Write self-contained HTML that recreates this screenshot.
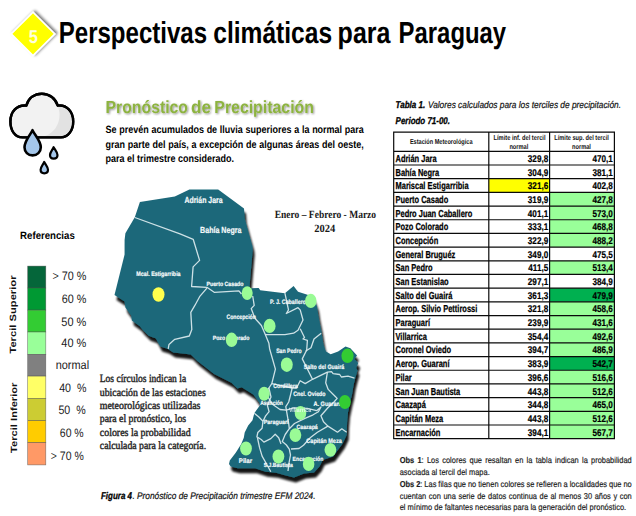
<!DOCTYPE html>
<html lang="es"><head><meta charset="utf-8"><title>Perspectivas climáticas para Paraguay</title>
<style>html,body{margin:0;padding:0;background:#fff}svg{display:block}</style></head>
<body><svg width="636" height="516" viewBox="0 0 636 516" text-rendering="geometricPrecision">
<rect width="636" height="516" fill="#fff"/>
<defs>
<filter id="mapsh" x="-10%" y="-10%" width="125%" height="125%">
  <feGaussianBlur in="SourceAlpha" stdDeviation="1.05" result="b"/>
  <feOffset in="b" dx="2" dy="4.6" result="o1"/>
  <feComponentTransfer in="o1" result="s1"><feFuncA type="linear" slope="0.92"/></feComponentTransfer>
  <feMerge><feMergeNode in="s1"/><feMergeNode in="SourceGraphic"/></feMerge>
</filter>
<filter id="dsh" x="-30%" y="-30%" width="170%" height="170%">
  <feGaussianBlur in="SourceAlpha" stdDeviation="1.4"/>
  <feOffset dx="1.5" dy="-1.5"/>
  <feComponentTransfer><feFuncA type="linear" slope="0.55"/></feComponentTransfer>
  <feMerge><feMergeNode/><feMergeNode in="SourceGraphic"/></feMerge>
</filter>
<filter id="tsh" x="-5%" y="-30%" width="110%" height="170%">
  <feGaussianBlur in="SourceAlpha" stdDeviation="0.9"/>
  <feOffset dx="0.8" dy="0.8"/>
  <feComponentTransfer><feFuncA type="linear" slope="0.45"/></feComponentTransfer>
  <feMerge><feMergeNode/><feMergeNode in="SourceGraphic"/></feMerge>
</filter>
<filter id="soft"><feGaussianBlur stdDeviation="0.35"/></filter>
</defs>
<g filter="url(#dsh)"><polygon points="33,12.3 54.8,33.9 33,55.5 11.2,33.9" fill="#ffff00" stroke="#fff" stroke-width="1.6"/></g>
<text x="33.4" y="43.0" font-family='"Liberation Sans", Arial, sans-serif' font-size="18.5" font-weight="bold" fill="#ffffdc" text-anchor="middle" textLength="9.2" lengthAdjust="spacingAndGlyphs" >5</text>
<text y="43.4" font-family='"Liberation Sans", Arial, sans-serif' font-size="30.4" font-weight="bold" fill="#000"><tspan x="58.78" textLength="148.28" lengthAdjust="spacingAndGlyphs">Perspectivas</tspan> <tspan x="213.31" textLength="118.80" lengthAdjust="spacingAndGlyphs">climáticas</tspan> <tspan x="337.62" textLength="52.80" lengthAdjust="spacingAndGlyphs">para</tspan> <tspan x="398.62" textLength="107.54" lengthAdjust="spacingAndGlyphs">Paraguay</tspan></text>
<g stroke="#000" stroke-width="2.4" stroke-linejoin="round" stroke-linecap="round">
<path d="M22.5,137.4 C14.5,137.4 10.4,130 10.4,121.5 C10.4,111.5 17,104.6 26.3,105.6 C28.5,98 34.5,93.7 41.8,93.7 C49.5,93.7 55.5,98.5 57.8,105.6 C66.5,104.3 73.2,111.5 73.2,121.5 C73.2,130.5 68,137.4 61,137.4 Z" fill="#f2f2f2"/>
</g>
<path d="M57.8,106.8 C65.5,105.8 72,112 72,121.5 C72,130 67.5,136.1 61,136.1 L45,136.1 C54,133 59.5,124.5 59.5,115 C59.5,112 59,109.2 57.8,106.8 Z" fill="#e2e2e2"/>
<path d="M22.5,137.4 C14.5,137.4 10.4,130 10.4,121.5 C10.4,111.5 17,104.6 26.3,105.6 C28.5,98 34.5,93.7 41.8,93.7 C49.5,93.7 55.5,98.5 57.8,105.6 C66.5,104.3 73.2,111.5 73.2,121.5 C73.2,130.5 68,137.4 61,137.4 Z" fill="none" stroke="#000" stroke-width="2.4" stroke-linejoin="round"/>
<g stroke="#000" stroke-linejoin="round" fill="#a4c6ea">
<path d="M32.5,130.2 C35,135.5 40.8,141 40.8,147.3 C40.8,152 37.2,155.4 32.6,155.4 C28,155.4 24.5,152 24.5,147.3 C24.5,141 30,135.5 32.5,130.2 Z" stroke-width="2.6"/>
<path d="M53.6,147.2 C55,150 57.5,152.3 57.5,155 C57.5,157.3 55.8,158.6 53.7,158.6 C51.6,158.6 50,157.3 50,155 C50,152.3 52.4,150 53.6,147.2 Z" stroke-width="2.2"/>
<path d="M44.2,162 C45.6,164.8 48,167 48,169.8 C48,172 46.3,173.3 44.3,173.3 C42.2,173.3 40.6,172 40.6,169.8 C40.6,167 43,164.8 44.2,162 Z" stroke-width="2.2"/>
</g>
<text y="113.1" font-family='"Liberation Sans", Arial, sans-serif' font-size="17.6" font-weight="bold" fill="#8db33f" filter="url(#tsh)"><tspan x="105.57" textLength="82.38" lengthAdjust="spacingAndGlyphs">Pronóstico</tspan> <tspan x="191.00" textLength="20.00" lengthAdjust="spacingAndGlyphs">de</tspan> <tspan x="214.31" textLength="99.64" lengthAdjust="spacingAndGlyphs">Precipitación</tspan></text>
<text transform="translate(105.6,133.3) scale(0.8478,1)" font-family='"Liberation Sans", Arial, sans-serif' font-size="10.6" font-weight="bold" fill="#000" word-spacing="0.277" >Se prevén acumulados de lluvia superiores a la normal para</text>
<text transform="translate(105.6,147.7) scale(0.8478,1)" font-family='"Liberation Sans", Arial, sans-serif' font-size="10.6" font-weight="bold" fill="#000" word-spacing="0.307" >gran parte del país, a excepción de algunas áreas del oeste,</text>
<text transform="translate(105.6,161.7) scale(0.8478,1)" font-family='"Liberation Sans", Arial, sans-serif' font-size="10.6" font-weight="bold" fill="#000" word-spacing="0.000" >para el trimestre considerado.</text>
<text x="20.1" y="239.4" font-family='"Liberation Sans", Arial, sans-serif' font-size="10.6" font-weight="bold" fill="#000" textLength="54.7" lengthAdjust="spacingAndGlyphs" >Referencias</text>
<rect x="27.7" y="266.1" width="18.1" height="21.9" fill="#05663a" stroke="#4d4d4d" stroke-opacity="0.7" stroke-width="0.6"/>
<rect x="27.7" y="288" width="18.1" height="22.1" fill="#009933" stroke="#4d4d4d" stroke-opacity="0.7" stroke-width="0.6"/>
<rect x="27.7" y="310.1" width="18.1" height="21.9" fill="#33cc33" stroke="#4d4d4d" stroke-opacity="0.7" stroke-width="0.6"/>
<rect x="27.7" y="332" width="18.1" height="22.4" fill="#99ff99" stroke="#4d4d4d" stroke-opacity="0.7" stroke-width="0.6"/>
<rect x="27.7" y="354.4" width="18.1" height="21.7" fill="#808080" stroke="#4d4d4d" stroke-opacity="0.7" stroke-width="0.6"/>
<rect x="27.7" y="376.1" width="18.1" height="22.3" fill="#ffff66" stroke="#4d4d4d" stroke-opacity="0.7" stroke-width="0.6"/>
<rect x="27.7" y="398.4" width="18.1" height="22.3" fill="#cccc33" stroke="#4d4d4d" stroke-opacity="0.7" stroke-width="0.6"/>
<rect x="27.7" y="420.7" width="18.1" height="22.0" fill="#ffcc00" stroke="#4d4d4d" stroke-opacity="0.7" stroke-width="0.6"/>
<rect x="27.7" y="442.7" width="18.1" height="22.2" fill="#ff9966" stroke="#4d4d4d" stroke-opacity="0.7" stroke-width="0.6"/>
<text x="52.4" y="280.4" font-family='"Liberation Sans", Arial, sans-serif' font-size="12.2" font-weight="normal" fill="#1a1a1a" textLength="33.9" lengthAdjust="spacingAndGlyphs" xml:space="preserve">&gt; 70 %</text>
<text x="61.7" y="303" font-family='"Liberation Sans", Arial, sans-serif' font-size="12.2" font-weight="normal" fill="#1a1a1a" textLength="24.6" lengthAdjust="spacingAndGlyphs" xml:space="preserve">60 %</text>
<text x="61.3" y="325.7" font-family='"Liberation Sans", Arial, sans-serif' font-size="12.2" font-weight="normal" fill="#1a1a1a" textLength="25.0" lengthAdjust="spacingAndGlyphs" xml:space="preserve">50 %</text>
<text x="61.3" y="347.4" font-family='"Liberation Sans", Arial, sans-serif' font-size="12.2" font-weight="normal" fill="#1a1a1a" textLength="25.0" lengthAdjust="spacingAndGlyphs" xml:space="preserve">40 %</text>
<text x="55.7" y="368.5" font-family='"Liberation Sans", Arial, sans-serif' font-size="12.2" font-weight="normal" fill="#1a1a1a" textLength="33.4" lengthAdjust="spacingAndGlyphs" xml:space="preserve">normal</text>
<text x="59.2" y="391.6" font-family='"Liberation Sans", Arial, sans-serif' font-size="12.2" font-weight="normal" fill="#1a1a1a" textLength="27.2" lengthAdjust="spacingAndGlyphs" xml:space="preserve">40  %</text>
<text x="58.4" y="413.5" font-family='"Liberation Sans", Arial, sans-serif' font-size="12.2" font-weight="normal" fill="#1a1a1a" textLength="27.2" lengthAdjust="spacingAndGlyphs" xml:space="preserve">50  %</text>
<text x="59.8" y="437.2" font-family='"Liberation Sans", Arial, sans-serif' font-size="12.2" font-weight="normal" fill="#1a1a1a" textLength="23.9" lengthAdjust="spacingAndGlyphs" xml:space="preserve">60 %</text>
<text x="50.8" y="459.5" font-family='"Liberation Sans", Arial, sans-serif' font-size="12.2" font-weight="normal" fill="#1a1a1a" textLength="32.9" lengthAdjust="spacingAndGlyphs" xml:space="preserve">&gt; 70 %</text>
<text transform="translate(16.4,353.6) rotate(-90)" font-family='"Liberation Sans", Arial, sans-serif' font-size="9" font-weight="bold" fill="#111" textLength="78.1" lengthAdjust="spacingAndGlyphs">Tercil Superior</text>
<text transform="translate(17.1,452.9) rotate(-90)" font-family='"Liberation Sans", Arial, sans-serif' font-size="9" font-weight="bold" fill="#111" textLength="70.3" lengthAdjust="spacingAndGlyphs">Tercil Inferior</text>
<g filter="url(#mapsh)"><polygon points="139.9,201.9 174.8,196.5 189.4,189.6 218.2,189.5 244,208.4 244.7,218.6 252.3,246 252.7,250 249.8,283.6 249.5,288.2 258.7,288.1 260.2,290.3 284.9,293.2 293.6,285.9 298,291.7 306.7,294.6 313.5,297 316.9,306.3 318.3,315.7 321.2,330.2 322.4,338 323.7,345.6 326,351.5 330.7,354.3 338.1,351.5 345.5,346.5 350.4,348.2 357,355.6 354.5,358.9 358.2,363 356.2,368 357.5,370.4 355.4,377.8 353.7,384.4 352.1,394.3 350.4,400.9 348,412.4 347.1,422.7 346.7,434.9 342.7,443.6 337.5,450.5 333.1,456.6 322.7,460.1 319.5,466.5 314,472.5 304,473.5 294,477.5 285,475.3 276.1,472.7 265.6,471.8 255.1,468.3 237.7,468.3 230.7,466.6 229,463.9 229.8,460.4 235.9,452.6 241.2,443.9 243.8,437.8 244.7,432.5 248.2,425.5 252.5,420.3 254.3,413.3 256,410.7 260.2,405 259.2,402.4 253.3,394.4 241.7,387.2 237.3,388.6 231.5,382.8 214.1,374.1 197.4,361 190.8,354.5 185,353.7 173.3,352.4 167.5,348.8 160.2,346.6 155.9,338.6 148.6,335.7 142.8,329.9 139.9,326.3 131.9,320.4 131.2,315.4 125.4,307.4 124.6,301.5 114.5,295 124.6,254.5 124.6,240 125.4,233.2 134.8,217.2" fill="#1d687a"/></g>
<polyline points="134.8,217.5 180,233.9 193.2,239.3 199.6,260.4 193.1,266.9 191.6,286.5 206.9,287.3 214.2,292.3 238.9,290.9 241.5,294" fill="none" stroke="#dcecef" stroke-width="1.3" stroke-linejoin="round" opacity="0.92"/>
<polyline points="206.9,288.2 199.6,296.7 195,305.2 190.8,312.4 191.8,329.5 189.3,336 174.8,339.3 169,344.4 168.2,348.8" fill="none" stroke="#dcecef" stroke-width="1.3" stroke-linejoin="round" opacity="0.92"/>
<polyline points="252.7,296 254.2,305.4 251.2,308.6 254.9,318.3 261.4,325.5 265.3,334.6 268.9,343.3 269.6,348.7 275.4,369.1 271.8,383.6 268.9,388 264,394" fill="none" stroke="#dcecef" stroke-width="1.3" stroke-linejoin="round" opacity="0.92"/>
<polyline points="284.9,293.2 288.5,309.9 286.3,313.5 298,307.7 300.2,309.9 303,320 298,330.2 293.6,333.2 284.9,334.6 265.3,334.6" fill="none" stroke="#dcecef" stroke-width="1.3" stroke-linejoin="round" opacity="0.92"/>
<polyline points="300.2,328.8 304.5,337.5 303,339 307.4,340.4 306.7,350 302.3,358.9 312.5,379.3 305.2,383.6 300.2,380.7 296.5,388 292.2,388 271.8,383.6" fill="none" stroke="#dcecef" stroke-width="1.3" stroke-linejoin="round" opacity="0.92"/>
<polyline points="321.2,333.2 314,339 311,347.7 305.8,351" fill="none" stroke="#dcecef" stroke-width="1.3" stroke-linejoin="round" opacity="0.92"/>
<polyline points="312.5,379.3 327.4,372.1 331.5,371.6 333.1,373.7 339.7,374.5 341.4,377 348,376.2 354.5,378.2" fill="none" stroke="#dcecef" stroke-width="1.3" stroke-linejoin="round" opacity="0.92"/>
<polyline points="327.4,372.1 325.7,382.8 328.2,389.4 334.8,396 337.2,398.4 334,402 327.9,407.8 320.9,415.7 323.5,421.8 327.9,426.1 337.5,432.2 341.8,428.8 346.7,432.2" fill="none" stroke="#dcecef" stroke-width="1.3" stroke-linejoin="round" opacity="0.92"/>
<polyline points="292.2,388 290.5,395 288.7,402 285.8,406.6 286.4,410.1 287.6,417.1 288.7,423.5 289.3,428.7 285.2,434.5 282.3,441.5 286.4,445 289.3,449.1 290.5,455 289,463 288,471" fill="none" stroke="#dcecef" stroke-width="1.3" stroke-linejoin="round" opacity="0.92"/>
<polyline points="268.9,388 271,397 267.4,405.5 269.1,411.6 265.6,415.9 263,421.2 262.1,428.2 257.8,432.5 256.9,436.9 261.2,439.5 263.9,442.1 270.8,438.6 275.2,434.3 278.7,437.8 281,444" fill="none" stroke="#dcecef" stroke-width="1.3" stroke-linejoin="round" opacity="0.92"/>
<polyline points="268,397 272.4,404.3 280,409.5 286.4,410.1 293.4,407.8 307.3,408.4 316.6,410.7 321,407 318.4,411.8 313.1,414.8 303.8,418.8 294.5,423.5 289.3,428.7" fill="none" stroke="#dcecef" stroke-width="1.3" stroke-linejoin="round" opacity="0.92"/>
<polyline points="327.9,426.1 317.4,432.2 310.5,437.5 303.5,445.3 299,448.5 291,449" fill="none" stroke="#dcecef" stroke-width="1.3" stroke-linejoin="round" opacity="0.92"/>
<polyline points="254.3,413.3 258.6,416.8 263,421.2" fill="none" stroke="#dcecef" stroke-width="1.3" stroke-linejoin="round" opacity="0.92"/>
<polyline points="257.5,438 259.5,447.4 262.1,456.1 266,463 270.8,471.8" fill="none" stroke="#dcecef" stroke-width="1.3" stroke-linejoin="round" opacity="0.92"/>
<text x="184.4" y="203.1" font-family='"Liberation Sans", Arial, sans-serif' font-size="8.8" font-weight="bold" fill="#f6fafa" textLength="38.2" lengthAdjust="spacingAndGlyphs" stroke="#f6fafa" stroke-width="0.2">Adrián Jara</text>
<text x="200.1" y="232.9" font-family='"Liberation Sans", Arial, sans-serif' font-size="8.8" font-weight="bold" fill="#f6fafa" textLength="41.3" lengthAdjust="spacingAndGlyphs" stroke="#f6fafa" stroke-width="0.2">Bahía Negra</text>
<text x="136.3" y="275.6" font-family='"Liberation Sans", Arial, sans-serif' font-size="6.4" font-weight="bold" fill="#f6fafa" textLength="44.3" lengthAdjust="spacingAndGlyphs" stroke="#f6fafa" stroke-width="0.2">Mcal. Estigarribia</text>
<text x="206.5" y="286.1" font-family='"Liberation Sans", Arial, sans-serif' font-size="6.2" font-weight="bold" fill="#f6fafa" textLength="37.0" lengthAdjust="spacingAndGlyphs" stroke="#f6fafa" stroke-width="0.2">Puerto Casado</text>
<text x="226.5" y="319" font-family='"Liberation Sans", Arial, sans-serif' font-size="6.4" font-weight="bold" fill="#f6fafa" textLength="29.4" lengthAdjust="spacingAndGlyphs" stroke="#f6fafa" stroke-width="0.2">Concepción</text>
<text x="212.7" y="340.4" font-family='"Liberation Sans", Arial, sans-serif' font-size="6.2" font-weight="bold" fill="#f6fafa" textLength="36.8" lengthAdjust="spacingAndGlyphs" stroke="#f6fafa" stroke-width="0.2">Pozo Colorado</text>
<text x="270.1" y="304.1" font-family='"Liberation Sans", Arial, sans-serif' font-size="6.4" font-weight="bold" fill="#f6fafa" textLength="35.9" lengthAdjust="spacingAndGlyphs" stroke="#f6fafa" stroke-width="0.2">P. J. Caballero</text>
<text x="276.2" y="353.4" font-family='"Liberation Sans", Arial, sans-serif' font-size="6.4" font-weight="bold" fill="#f6fafa" textLength="25.4" lengthAdjust="spacingAndGlyphs" stroke="#f6fafa" stroke-width="0.2">San Pedro</text>
<text x="303.8" y="369.2" font-family='"Liberation Sans", Arial, sans-serif' font-size="6.4" font-weight="bold" fill="#f6fafa" textLength="40.5" lengthAdjust="spacingAndGlyphs" stroke="#f6fafa" stroke-width="0.2">Salto del Guairá</text>
<text x="273.3" y="387.5" font-family='"Liberation Sans", Arial, sans-serif' font-size="6.2" font-weight="bold" fill="#f6fafa" textLength="24.4" lengthAdjust="spacingAndGlyphs" stroke="#f6fafa" stroke-width="0.2">Cordillera</text>
<text x="293.2" y="396.4" font-family='"Liberation Sans", Arial, sans-serif' font-size="6.4" font-weight="bold" fill="#f6fafa" textLength="32.4" lengthAdjust="spacingAndGlyphs" stroke="#f6fafa" stroke-width="0.2">Cnel. Oviedo</text>
<text x="313.5" y="405.6" font-family='"Liberation Sans", Arial, sans-serif' font-size="6.4" font-weight="bold" fill="#f6fafa" textLength="28.0" lengthAdjust="spacingAndGlyphs" stroke="#f6fafa" stroke-width="0.2">A. Guaraní</text>
<text x="260.2" y="404.9" font-family='"Liberation Sans", Arial, sans-serif' font-size="6.2" font-weight="bold" fill="#f6fafa" textLength="22.7" lengthAdjust="spacingAndGlyphs" stroke="#f6fafa" stroke-width="0.2">Asunción</text>
<text x="263.7" y="424.2" font-family='"Liberation Sans", Arial, sans-serif' font-size="6.2" font-weight="bold" fill="#f6fafa" textLength="24.9" lengthAdjust="spacingAndGlyphs" stroke="#f6fafa" stroke-width="0.2">Paraguarí</text>
<text x="296.4" y="428.7" font-family='"Liberation Sans", Arial, sans-serif' font-size="6.2" font-weight="bold" fill="#f6fafa" textLength="21.4" lengthAdjust="spacingAndGlyphs" stroke="#f6fafa" stroke-width="0.2">Caazapá</text>
<text x="306.3" y="442.9" font-family='"Liberation Sans", Arial, sans-serif' font-size="6.4" font-weight="bold" fill="#f6fafa" textLength="35.5" lengthAdjust="spacingAndGlyphs" stroke="#f6fafa" stroke-width="0.2">Capitán Meza</text>
<text x="292.6" y="461" font-family='"Liberation Sans", Arial, sans-serif' font-size="6.2" font-weight="bold" fill="#f6fafa" textLength="30.8" lengthAdjust="spacingAndGlyphs" stroke="#f6fafa" stroke-width="0.2">Encarnación</text>
<text x="263.8" y="466.8" font-family='"Liberation Sans", Arial, sans-serif' font-size="6.0" font-weight="bold" fill="#f6fafa" textLength="29.1" lengthAdjust="spacingAndGlyphs" stroke="#f6fafa" stroke-width="0.2">S.J.Bautista</text>
<text x="238.8" y="463.4" font-family='"Liberation Sans", Arial, sans-serif' font-size="6.8" font-weight="bold" fill="#f6fafa" textLength="13.3" lengthAdjust="spacingAndGlyphs" stroke="#f6fafa" stroke-width="0.2">Pilar</text>
<ellipse cx="158.5" cy="294.5" rx="6" ry="7.3" fill="#ffff4d"/>
<ellipse cx="247.2" cy="293.1" rx="5.5" ry="6.8" fill="#9afb96"/>
<ellipse cx="231.6" cy="339.8" rx="5.8" ry="7.3" fill="#9afb96"/>
<ellipse cx="310.8" cy="300.9" rx="5.8" ry="7.1" fill="#9afb96"/>
<ellipse cx="269.6" cy="325.9" rx="6" ry="7.05" fill="#9afb96"/>
<ellipse cx="286.8" cy="364.7" rx="5.96" ry="7.3" fill="#9afb96"/>
<ellipse cx="264.1" cy="393.8" rx="5.7" ry="7" fill="#9afb96"/>
<ellipse cx="300.5" cy="413" rx="5.8" ry="7" fill="#9afb96"/>
<ellipse cx="295.4" cy="435.1" rx="5.9" ry="6.9" fill="#9afb96"/>
<ellipse cx="278.4" cy="456.6" rx="5.9" ry="7.05" fill="#9afb96"/>
<ellipse cx="308.6" cy="463.9" rx="5.8" ry="7.05" fill="#9afb96"/>
<ellipse cx="330.4" cy="449.8" rx="5.9" ry="6.9" fill="#9afb96"/>
<ellipse cx="347.5" cy="355.8" rx="6.1" ry="7.2" fill="#33cc33"/>
<ellipse cx="344.9" cy="402" rx="5.9" ry="7.1" fill="#33cc33"/>
<ellipse cx="246" cy="448.5" rx="5.9" ry="6.9" fill="#9afb96"/>
<text x="288.9" y="412.3" font-family='"Liberation Sans", Arial, sans-serif' font-size="6.2" font-weight="bold" fill="#f6fafa" textLength="22.3" lengthAdjust="spacingAndGlyphs" opacity="0.8">Villarrica</text>
<text x="325.4" y="218.4" font-family='"Liberation Serif", "Times New Roman", serif' font-size="11" font-weight="bold" fill="#1a1a1a" text-anchor="middle" textLength="101.4" lengthAdjust="spacingAndGlyphs" >Enero – Febrero - Marzo</text>
<text x="324.7" y="232.2" font-family='"Liberation Serif", "Times New Roman", serif' font-size="11" font-weight="bold" fill="#1a1a1a" text-anchor="middle" textLength="21.0" lengthAdjust="spacingAndGlyphs" >2024</text>
<text x="99.8" y="382" font-family='"Liberation Serif", "Times New Roman", serif' font-size="11.2" font-weight="normal" fill="#262626" textLength="86.3" lengthAdjust="spacingAndGlyphs" stroke="#262626" stroke-width="0.42">Los círculos indican la</text>
<text x="99.8" y="395.5" font-family='"Liberation Serif", "Times New Roman", serif' font-size="11.2" font-weight="normal" fill="#262626" textLength="105.9" lengthAdjust="spacingAndGlyphs" stroke="#262626" stroke-width="0.42">ubicación de las estaciones</text>
<text x="99.8" y="408.9" font-family='"Liberation Serif", "Times New Roman", serif' font-size="11.2" font-weight="normal" fill="#262626" textLength="100.6" lengthAdjust="spacingAndGlyphs" stroke="#262626" stroke-width="0.42">meteorológicas utilizadas</text>
<text x="99.8" y="422.2" font-family='"Liberation Serif", "Times New Roman", serif' font-size="11.2" font-weight="normal" fill="#262626" textLength="86.3" lengthAdjust="spacingAndGlyphs" stroke="#262626" stroke-width="0.42">para el pronóstico, los</text>
<text x="99.8" y="435.5" font-family='"Liberation Serif", "Times New Roman", serif' font-size="11.2" font-weight="normal" fill="#262626" textLength="90.8" lengthAdjust="spacingAndGlyphs" stroke="#262626" stroke-width="0.42">colores la probabilidad</text>
<text x="99.8" y="448.8" font-family='"Liberation Serif", "Times New Roman", serif' font-size="11.2" font-weight="normal" fill="#262626" textLength="106.3" lengthAdjust="spacingAndGlyphs" stroke="#262626" stroke-width="0.42">calculada para la categoría.</text>
<text x="101" y="498.8" font-family='"Liberation Sans", Arial, sans-serif' font-size="9.8" font-weight="bold" fill="#000" font-style="italic" textLength="31.0" lengthAdjust="spacingAndGlyphs" stroke="#000" stroke-width="0.3">Figura 4</text>
<text x="132.4" y="498.8" font-family='"Liberation Sans", Arial, sans-serif' font-size="9.6" font-weight="normal" fill="#111" font-style="italic" textLength="183.1" lengthAdjust="spacingAndGlyphs" stroke="#111" stroke-width="0.2">. Pronóstico de Precipitación trimestre EFM 2024.</text>
<text x="395.6" y="108.3" font-family='"Liberation Sans", Arial, sans-serif' font-size="9.8" font-weight="bold" fill="#000" font-style="italic" textLength="29.7" lengthAdjust="spacingAndGlyphs" stroke="#000" stroke-width="0.3">Tabla 1.</text>
<text x="427.9" y="108.2" font-family='"Liberation Sans", Arial, sans-serif' font-size="9.6" font-weight="normal" fill="#111" font-style="italic" textLength="193.1" lengthAdjust="spacingAndGlyphs" stroke="#111" stroke-width="0.2">Valores calculados para los terciles de precipitación.</text>
<text x="395.6" y="123.9" font-family='"Liberation Sans", Arial, sans-serif' font-size="9.8" font-weight="bold" fill="#000" font-style="italic" textLength="54.4" lengthAdjust="spacingAndGlyphs" stroke="#000" stroke-width="0.3">Periodo 71-00.</text>
<rect x="488.8" y="178.67" width="60.8" height="13.69" fill="#ffff00"/>
<rect x="549.6" y="192.36" width="64.8" height="13.69" fill="#99ff99"/>
<rect x="549.6" y="206.04" width="64.8" height="13.69" fill="#99ff99"/>
<rect x="549.6" y="219.73" width="64.8" height="13.69" fill="#99ff99"/>
<rect x="549.6" y="233.41" width="64.8" height="13.69" fill="#99ff99"/>
<rect x="549.6" y="260.79" width="64.8" height="13.69" fill="#99ff99"/>
<rect x="549.6" y="288.16" width="64.8" height="13.69" fill="#00b050"/>
<rect x="549.6" y="301.84" width="64.8" height="13.69" fill="#99ff99"/>
<rect x="549.6" y="315.53" width="64.8" height="13.69" fill="#99ff99"/>
<rect x="549.6" y="329.21" width="64.8" height="13.69" fill="#99ff99"/>
<rect x="549.6" y="342.90" width="64.8" height="13.69" fill="#99ff99"/>
<rect x="549.6" y="356.59" width="64.8" height="13.69" fill="#00b050"/>
<rect x="549.6" y="370.27" width="64.8" height="13.69" fill="#99ff99"/>
<rect x="549.6" y="383.96" width="64.8" height="13.69" fill="#99ff99"/>
<rect x="549.6" y="397.64" width="64.8" height="13.69" fill="#99ff99"/>
<rect x="549.6" y="411.33" width="64.8" height="13.69" fill="#99ff99"/>
<rect x="549.6" y="425.01" width="64.8" height="13.69" fill="#99ff99"/>
<path d="M393.7,151.30H614.4 M393.7,164.99H614.4 M393.7,178.67H614.4 M393.7,192.36H614.4 M393.7,206.04H614.4 M393.7,219.73H614.4 M393.7,233.41H614.4 M393.7,247.10H614.4 M393.7,260.79H614.4 M393.7,274.47H614.4 M393.7,288.16H614.4 M393.7,301.84H614.4 M393.7,315.53H614.4 M393.7,329.21H614.4 M393.7,342.90H614.4 M393.7,356.59H614.4 M393.7,370.27H614.4 M393.7,383.96H614.4 M393.7,397.64H614.4 M393.7,411.33H614.4 M393.7,425.01H614.4 M393.7,438.70H614.4 M393.7,132.1H614.4 M393.7,132.1V438.70 M488.8,132.1V438.70 M549.6,132.1V438.70 M614.4,132.1V438.70" stroke="#0a0a0a" stroke-width="1.2" fill="none" stroke-linecap="square"/>
<text x="409.9" y="143.6" font-family='"Liberation Sans", Arial, sans-serif' font-size="7.2" font-weight="bold" fill="#111" textLength="62.6" lengthAdjust="spacingAndGlyphs" >Estación Meteorológica</text>
<text x="493.5" y="139.9" font-family='"Liberation Sans", Arial, sans-serif' font-size="7.2" font-weight="bold" fill="#111" textLength="52.0" lengthAdjust="spacingAndGlyphs" >Límite inf. del tercil</text>
<text x="509.4" y="148.9" font-family='"Liberation Sans", Arial, sans-serif' font-size="7.2" font-weight="bold" fill="#111" textLength="18.9" lengthAdjust="spacingAndGlyphs" >normal</text>
<text x="554.3" y="139.9" font-family='"Liberation Sans", Arial, sans-serif' font-size="7.2" font-weight="bold" fill="#111" textLength="54.5" lengthAdjust="spacingAndGlyphs" >Límite sup. del tercil</text>
<text x="572" y="148.9" font-family='"Liberation Sans", Arial, sans-serif' font-size="7.2" font-weight="bold" fill="#111" textLength="18.9" lengthAdjust="spacingAndGlyphs" >normal</text>
<text transform="translate(395.5,161.89) scale(0.74,1)" font-family='"Liberation Sans", Arial, sans-serif' font-size="10.1" font-weight="bold" fill="#000" stroke="#000" stroke-width="0.25">Adrián Jara</text>
<text transform="translate(548.2,161.89) scale(0.83,1)" text-anchor="end" font-family='"Liberation Sans", Arial, sans-serif' font-size="9.8" font-weight="bold" fill="#000" stroke="#000" stroke-width="0.2">329,8</text>
<text transform="translate(612.9,161.89) scale(0.83,1)" text-anchor="end" font-family='"Liberation Sans", Arial, sans-serif' font-size="9.8" font-weight="bold" fill="#000" stroke="#000" stroke-width="0.2">470,1</text>
<text transform="translate(395.5,175.57) scale(0.74,1)" font-family='"Liberation Sans", Arial, sans-serif' font-size="10.1" font-weight="bold" fill="#000" stroke="#000" stroke-width="0.25">Bahía Negra</text>
<text transform="translate(548.2,175.57) scale(0.83,1)" text-anchor="end" font-family='"Liberation Sans", Arial, sans-serif' font-size="9.8" font-weight="bold" fill="#000" stroke="#000" stroke-width="0.2">304,9</text>
<text transform="translate(612.9,175.57) scale(0.83,1)" text-anchor="end" font-family='"Liberation Sans", Arial, sans-serif' font-size="9.8" font-weight="bold" fill="#000" stroke="#000" stroke-width="0.2">381,1</text>
<text transform="translate(395.5,189.26) scale(0.74,1)" font-family='"Liberation Sans", Arial, sans-serif' font-size="10.1" font-weight="bold" fill="#000" stroke="#000" stroke-width="0.25">Mariscal Estigarribia</text>
<text transform="translate(548.2,189.26) scale(0.83,1)" text-anchor="end" font-family='"Liberation Sans", Arial, sans-serif' font-size="9.8" font-weight="bold" fill="#000" stroke="#000" stroke-width="0.2">321,6</text>
<text transform="translate(612.9,189.26) scale(0.83,1)" text-anchor="end" font-family='"Liberation Sans", Arial, sans-serif' font-size="9.8" font-weight="bold" fill="#000" stroke="#000" stroke-width="0.2">402,8</text>
<text transform="translate(395.5,202.94) scale(0.74,1)" font-family='"Liberation Sans", Arial, sans-serif' font-size="10.1" font-weight="bold" fill="#000" stroke="#000" stroke-width="0.25">Puerto Casado</text>
<text transform="translate(548.2,202.94) scale(0.83,1)" text-anchor="end" font-family='"Liberation Sans", Arial, sans-serif' font-size="9.8" font-weight="bold" fill="#000" stroke="#000" stroke-width="0.2">319,9</text>
<text transform="translate(612.9,202.94) scale(0.83,1)" text-anchor="end" font-family='"Liberation Sans", Arial, sans-serif' font-size="9.8" font-weight="bold" fill="#000" stroke="#000" stroke-width="0.2">427,8</text>
<text transform="translate(395.5,216.63) scale(0.74,1)" font-family='"Liberation Sans", Arial, sans-serif' font-size="10.1" font-weight="bold" fill="#000" stroke="#000" stroke-width="0.25">Pedro Juan Caballero</text>
<text transform="translate(548.2,216.63) scale(0.83,1)" text-anchor="end" font-family='"Liberation Sans", Arial, sans-serif' font-size="9.8" font-weight="bold" fill="#000" stroke="#000" stroke-width="0.2">401,1</text>
<text transform="translate(612.9,216.63) scale(0.83,1)" text-anchor="end" font-family='"Liberation Sans", Arial, sans-serif' font-size="9.8" font-weight="bold" fill="#000" stroke="#000" stroke-width="0.2">573,0</text>
<text transform="translate(395.5,230.31) scale(0.74,1)" font-family='"Liberation Sans", Arial, sans-serif' font-size="10.1" font-weight="bold" fill="#000" stroke="#000" stroke-width="0.25">Pozo Colorado</text>
<text transform="translate(548.2,230.31) scale(0.83,1)" text-anchor="end" font-family='"Liberation Sans", Arial, sans-serif' font-size="9.8" font-weight="bold" fill="#000" stroke="#000" stroke-width="0.2">333,1</text>
<text transform="translate(612.9,230.31) scale(0.83,1)" text-anchor="end" font-family='"Liberation Sans", Arial, sans-serif' font-size="9.8" font-weight="bold" fill="#000" stroke="#000" stroke-width="0.2">468,8</text>
<text transform="translate(395.5,244.00) scale(0.74,1)" font-family='"Liberation Sans", Arial, sans-serif' font-size="10.1" font-weight="bold" fill="#000" stroke="#000" stroke-width="0.25">Concepción</text>
<text transform="translate(548.2,244.00) scale(0.83,1)" text-anchor="end" font-family='"Liberation Sans", Arial, sans-serif' font-size="9.8" font-weight="bold" fill="#000" stroke="#000" stroke-width="0.2">322,9</text>
<text transform="translate(612.9,244.00) scale(0.83,1)" text-anchor="end" font-family='"Liberation Sans", Arial, sans-serif' font-size="9.8" font-weight="bold" fill="#000" stroke="#000" stroke-width="0.2">488,2</text>
<text transform="translate(395.5,257.69) scale(0.74,1)" font-family='"Liberation Sans", Arial, sans-serif' font-size="10.1" font-weight="bold" fill="#000" stroke="#000" stroke-width="0.25">General Bruguéz</text>
<text transform="translate(548.2,257.69) scale(0.83,1)" text-anchor="end" font-family='"Liberation Sans", Arial, sans-serif' font-size="9.8" font-weight="bold" fill="#000" stroke="#000" stroke-width="0.2">349,0</text>
<text transform="translate(612.9,257.69) scale(0.83,1)" text-anchor="end" font-family='"Liberation Sans", Arial, sans-serif' font-size="9.8" font-weight="bold" fill="#000" stroke="#000" stroke-width="0.2">475,5</text>
<text transform="translate(395.5,271.37) scale(0.74,1)" font-family='"Liberation Sans", Arial, sans-serif' font-size="10.1" font-weight="bold" fill="#000" stroke="#000" stroke-width="0.25">San Pedro</text>
<text transform="translate(548.2,271.37) scale(0.83,1)" text-anchor="end" font-family='"Liberation Sans", Arial, sans-serif' font-size="9.8" font-weight="bold" fill="#000" stroke="#000" stroke-width="0.2">411,5</text>
<text transform="translate(612.9,271.37) scale(0.83,1)" text-anchor="end" font-family='"Liberation Sans", Arial, sans-serif' font-size="9.8" font-weight="bold" fill="#000" stroke="#000" stroke-width="0.2">513,4</text>
<text transform="translate(395.5,285.06) scale(0.74,1)" font-family='"Liberation Sans", Arial, sans-serif' font-size="10.1" font-weight="bold" fill="#000" stroke="#000" stroke-width="0.25">San Estanislao</text>
<text transform="translate(548.2,285.06) scale(0.83,1)" text-anchor="end" font-family='"Liberation Sans", Arial, sans-serif' font-size="9.8" font-weight="bold" fill="#000" stroke="#000" stroke-width="0.2">297,1</text>
<text transform="translate(612.9,285.06) scale(0.83,1)" text-anchor="end" font-family='"Liberation Sans", Arial, sans-serif' font-size="9.8" font-weight="bold" fill="#000" stroke="#000" stroke-width="0.2">384,9</text>
<text transform="translate(395.5,298.74) scale(0.74,1)" font-family='"Liberation Sans", Arial, sans-serif' font-size="10.1" font-weight="bold" fill="#000" stroke="#000" stroke-width="0.25">Salto del Guairá</text>
<text transform="translate(548.2,298.74) scale(0.83,1)" text-anchor="end" font-family='"Liberation Sans", Arial, sans-serif' font-size="9.8" font-weight="bold" fill="#000" stroke="#000" stroke-width="0.2">361,3</text>
<text transform="translate(612.9,298.74) scale(0.83,1)" text-anchor="end" font-family='"Liberation Sans", Arial, sans-serif' font-size="9.8" font-weight="bold" fill="#000" stroke="#000" stroke-width="0.2">479,9</text>
<text transform="translate(395.5,312.43) scale(0.74,1)" font-family='"Liberation Sans", Arial, sans-serif' font-size="10.1" font-weight="bold" fill="#000" stroke="#000" stroke-width="0.25">Aerop. Silvio Pettirossi</text>
<text transform="translate(548.2,312.43) scale(0.83,1)" text-anchor="end" font-family='"Liberation Sans", Arial, sans-serif' font-size="9.8" font-weight="bold" fill="#000" stroke="#000" stroke-width="0.2">321,8</text>
<text transform="translate(612.9,312.43) scale(0.83,1)" text-anchor="end" font-family='"Liberation Sans", Arial, sans-serif' font-size="9.8" font-weight="bold" fill="#000" stroke="#000" stroke-width="0.2">458,6</text>
<text transform="translate(395.5,326.11) scale(0.74,1)" font-family='"Liberation Sans", Arial, sans-serif' font-size="10.1" font-weight="bold" fill="#000" stroke="#000" stroke-width="0.25">Paraguarí</text>
<text transform="translate(548.2,326.11) scale(0.83,1)" text-anchor="end" font-family='"Liberation Sans", Arial, sans-serif' font-size="9.8" font-weight="bold" fill="#000" stroke="#000" stroke-width="0.2">239,9</text>
<text transform="translate(612.9,326.11) scale(0.83,1)" text-anchor="end" font-family='"Liberation Sans", Arial, sans-serif' font-size="9.8" font-weight="bold" fill="#000" stroke="#000" stroke-width="0.2">431,6</text>
<text transform="translate(395.5,339.80) scale(0.74,1)" font-family='"Liberation Sans", Arial, sans-serif' font-size="10.1" font-weight="bold" fill="#000" stroke="#000" stroke-width="0.25">Villarrica</text>
<text transform="translate(548.2,339.80) scale(0.83,1)" text-anchor="end" font-family='"Liberation Sans", Arial, sans-serif' font-size="9.8" font-weight="bold" fill="#000" stroke="#000" stroke-width="0.2">354,4</text>
<text transform="translate(612.9,339.80) scale(0.83,1)" text-anchor="end" font-family='"Liberation Sans", Arial, sans-serif' font-size="9.8" font-weight="bold" fill="#000" stroke="#000" stroke-width="0.2">492,6</text>
<text transform="translate(395.5,353.49) scale(0.74,1)" font-family='"Liberation Sans", Arial, sans-serif' font-size="10.1" font-weight="bold" fill="#000" stroke="#000" stroke-width="0.25">Coronel Oviedo</text>
<text transform="translate(548.2,353.49) scale(0.83,1)" text-anchor="end" font-family='"Liberation Sans", Arial, sans-serif' font-size="9.8" font-weight="bold" fill="#000" stroke="#000" stroke-width="0.2">394,7</text>
<text transform="translate(612.9,353.49) scale(0.83,1)" text-anchor="end" font-family='"Liberation Sans", Arial, sans-serif' font-size="9.8" font-weight="bold" fill="#000" stroke="#000" stroke-width="0.2">486,9</text>
<text transform="translate(395.5,367.17) scale(0.74,1)" font-family='"Liberation Sans", Arial, sans-serif' font-size="10.1" font-weight="bold" fill="#000" stroke="#000" stroke-width="0.25">Aerop. Guaraní</text>
<text transform="translate(548.2,367.17) scale(0.83,1)" text-anchor="end" font-family='"Liberation Sans", Arial, sans-serif' font-size="9.8" font-weight="bold" fill="#000" stroke="#000" stroke-width="0.2">383,9</text>
<text transform="translate(612.9,367.17) scale(0.83,1)" text-anchor="end" font-family='"Liberation Sans", Arial, sans-serif' font-size="9.8" font-weight="bold" fill="#000" stroke="#000" stroke-width="0.2">542,7</text>
<text transform="translate(395.5,380.86) scale(0.74,1)" font-family='"Liberation Sans", Arial, sans-serif' font-size="10.1" font-weight="bold" fill="#000" stroke="#000" stroke-width="0.25">Pilar</text>
<text transform="translate(548.2,380.86) scale(0.83,1)" text-anchor="end" font-family='"Liberation Sans", Arial, sans-serif' font-size="9.8" font-weight="bold" fill="#000" stroke="#000" stroke-width="0.2">396,6</text>
<text transform="translate(612.9,380.86) scale(0.83,1)" text-anchor="end" font-family='"Liberation Sans", Arial, sans-serif' font-size="9.8" font-weight="bold" fill="#000" stroke="#000" stroke-width="0.2">516,6</text>
<text transform="translate(395.5,394.54) scale(0.74,1)" font-family='"Liberation Sans", Arial, sans-serif' font-size="10.1" font-weight="bold" fill="#000" stroke="#000" stroke-width="0.25">San Juan Bautista</text>
<text transform="translate(548.2,394.54) scale(0.83,1)" text-anchor="end" font-family='"Liberation Sans", Arial, sans-serif' font-size="9.8" font-weight="bold" fill="#000" stroke="#000" stroke-width="0.2">443,8</text>
<text transform="translate(612.9,394.54) scale(0.83,1)" text-anchor="end" font-family='"Liberation Sans", Arial, sans-serif' font-size="9.8" font-weight="bold" fill="#000" stroke="#000" stroke-width="0.2">512,6</text>
<text transform="translate(395.5,408.23) scale(0.74,1)" font-family='"Liberation Sans", Arial, sans-serif' font-size="10.1" font-weight="bold" fill="#000" stroke="#000" stroke-width="0.25">Caazapá</text>
<text transform="translate(548.2,408.23) scale(0.83,1)" text-anchor="end" font-family='"Liberation Sans", Arial, sans-serif' font-size="9.8" font-weight="bold" fill="#000" stroke="#000" stroke-width="0.2">344,8</text>
<text transform="translate(612.9,408.23) scale(0.83,1)" text-anchor="end" font-family='"Liberation Sans", Arial, sans-serif' font-size="9.8" font-weight="bold" fill="#000" stroke="#000" stroke-width="0.2">465,0</text>
<text transform="translate(395.5,421.91) scale(0.74,1)" font-family='"Liberation Sans", Arial, sans-serif' font-size="10.1" font-weight="bold" fill="#000" stroke="#000" stroke-width="0.25">Capitán Meza</text>
<text transform="translate(548.2,421.91) scale(0.83,1)" text-anchor="end" font-family='"Liberation Sans", Arial, sans-serif' font-size="9.8" font-weight="bold" fill="#000" stroke="#000" stroke-width="0.2">443,8</text>
<text transform="translate(612.9,421.91) scale(0.83,1)" text-anchor="end" font-family='"Liberation Sans", Arial, sans-serif' font-size="9.8" font-weight="bold" fill="#000" stroke="#000" stroke-width="0.2">512,6</text>
<text transform="translate(395.5,435.60) scale(0.74,1)" font-family='"Liberation Sans", Arial, sans-serif' font-size="10.1" font-weight="bold" fill="#000" stroke="#000" stroke-width="0.25">Encarnación</text>
<text transform="translate(548.2,435.60) scale(0.83,1)" text-anchor="end" font-family='"Liberation Sans", Arial, sans-serif' font-size="9.8" font-weight="bold" fill="#000" stroke="#000" stroke-width="0.2">394,1</text>
<text transform="translate(612.9,435.60) scale(0.83,1)" text-anchor="end" font-family='"Liberation Sans", Arial, sans-serif' font-size="9.8" font-weight="bold" fill="#000" stroke="#000" stroke-width="0.2">567,7</text>
<text transform="translate(399.7,463.0) scale(0.8679,1)" font-family='"Liberation Sans", Arial, sans-serif' font-size="8.6" font-weight="normal" fill="#1c1c1c" word-spacing="1.368" stroke="#1c1c1c" stroke-width="0.18"><tspan font-weight="bold">Obs 1</tspan>: Los colores que resaltan en la tabla indican la probabilidad</text>
<text transform="translate(399.7,474.8) scale(0.8642,1)" font-family='"Liberation Sans", Arial, sans-serif' font-size="8.6" font-weight="normal" fill="#1c1c1c" word-spacing="0.000" stroke="#1c1c1c" stroke-width="0.18">asociada al tercil del mapa.</text>
<text transform="translate(399.7,486.5) scale(0.8679,1)" font-family='"Liberation Sans", Arial, sans-serif' font-size="8.6" font-weight="normal" fill="#1c1c1c" word-spacing="-0.129" stroke="#1c1c1c" stroke-width="0.18"><tspan font-weight="bold">Obs 2</tspan>: Las filas que no tienen colores se refieren a localidades que no</text>
<text transform="translate(399.7,498.5) scale(0.8679,1)" font-family='"Liberation Sans", Arial, sans-serif' font-size="8.6" font-weight="normal" fill="#1c1c1c" word-spacing="0.570" stroke="#1c1c1c" stroke-width="0.18">cuentan con una serie de datos continua de al menos 30 años y con</text>
<text transform="translate(399.7,510.3) scale(0.8716,1)" font-family='"Liberation Sans", Arial, sans-serif' font-size="8.6" font-weight="normal" fill="#1c1c1c" word-spacing="0.000" stroke="#1c1c1c" stroke-width="0.18">el mínimo de faltantes necesarias para la generación del pronóstico.</text>
</svg></body></html>
